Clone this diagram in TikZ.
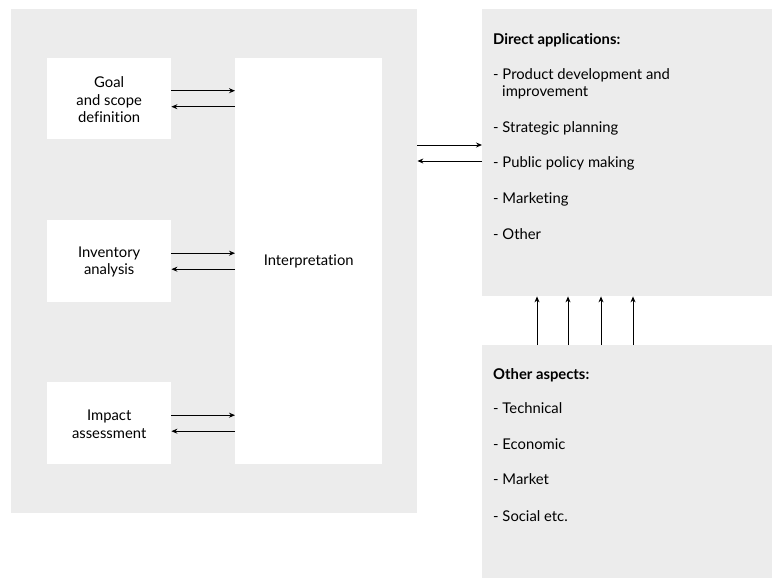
\documentclass[tikz,border=0pt]{standalone}
\usepackage{fontspec}
\setmainfont{Lato}[Ligatures=NoCommon]
\usetikzlibrary{arrows.meta}
\definecolor{panel}{RGB}{236,236,236}
\tikzset{
  panelbox/.style={fill=panel, draw=none, inner sep=0pt, anchor=north west},
  whitebox/.style={fill=white, draw=none, inner sep=0pt, anchor=north west},
  boxtext/.style={align=center, inner sep=0pt, font=\fontsize{14.8}{17.5}\selectfont},
  arr/.style={-{Stealth[length=6pt,width=5pt]}, line width=0.9pt, black},
  lbl/.style={anchor=base west, inner sep=0pt, font=\fontsize{14.8}{16}\selectfont},
  ttl/.style={lbl, font=\fontsize{14.8}{16}\selectfont\bfseries}
}
\begin{document}
\begin{tikzpicture}[x=1pt,y=-1pt]
\useasboundingbox (0,0) rectangle (772,581);
\node[panelbox, minimum width=406pt, minimum height=504pt] (frame) at (11,9) {};
\node[panelbox, minimum width=290pt, minimum height=287pt] (direct) at (482,9) {};
\node[panelbox, minimum width=290pt, minimum height=233pt] (other) at (482,345) {};
\node[whitebox, minimum width=124pt, minimum height=81pt] (goal) at (47,58) {};
\node[boxtext] at ([yshift=-1pt]goal.center) {Goal\\and scope\\definition};
\node[whitebox, minimum width=124pt, minimum height=82pt] (inv) at (47,220) {};
\node[boxtext] at ([yshift=-1pt]inv.center) {Inventory\\analysis};
\node[whitebox, minimum width=124pt, minimum height=82pt] (imp) at (47,382) {};
\node[boxtext] at ([yshift=-1pt]imp.center) {Impact\\assessment};
\node[whitebox, minimum width=147pt, minimum height=406pt] (interp) at (235,58) {};
\node[boxtext] at (interp.center) {Interpretation};
\foreach \b in {goal,inv,imp}{
  \draw[arr] ([yshift=8pt]\b.east) -- ([yshift=8pt]\b.east -| interp.west);
  \draw[arr] ([yshift=-8pt]\b.east -| interp.west) -- ([yshift=-8pt]\b.east);
}
\draw[arr] (frame.east |- 0,145) -- (direct.west |- 0,145);
\draw[arr] (direct.west |- 0,161) -- (frame.east |- 0,161);
\foreach \x in {537,568,601,633}{
  \draw[arr] (other.north -| \x,0) -- (direct.south -| \x,0);
}
\node[ttl] (dt) at (493,44) {Direct applications:};
\node[lbl] (d1) at (493,79) {- Product development and};
\node[lbl] (d1b) at (502,96) {improvement};
\node[lbl] (d2) at (493,132) {- Strategic planning};
\node[lbl] (d3) at (493,167) {- Public policy making};
\node[lbl] (d4) at (493,203) {- Marketing};
\node[lbl] (d5) at (493,239) {- Other};
\node[ttl] (ot) at (493,379) {Other aspects:};
\node[lbl] (o1) at (493,413) {- Technical};
\node[lbl] (o2) at (493,449) {- Economic};
\node[lbl] (o3) at (493,484) {- Market};
\node[lbl] (o4) at (493,521) {- Social etc.};
\end{tikzpicture}
\end{document}
